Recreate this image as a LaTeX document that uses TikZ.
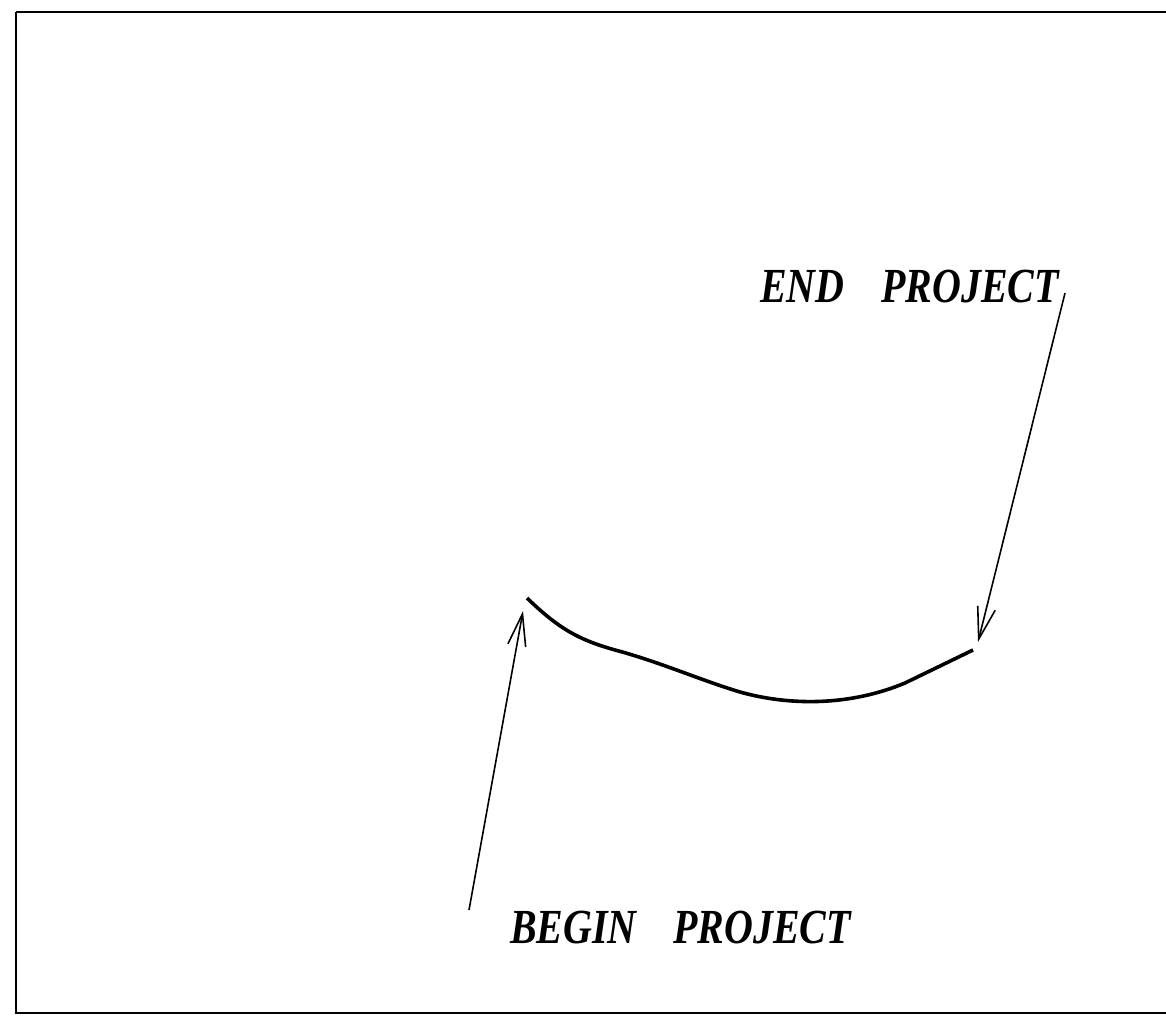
\documentclass[tikz,border=0pt]{standalone}
\usepackage{fontspec}
\setmainfont{Liberation Serif}
\newfontfamily\lblfont[FakeStretch=0.815]{Liberation Serif}
\usetikzlibrary{arrows.meta}
\begin{document}
\begin{tikzpicture}[x=1pt,y=-1pt,
  lbl/.style={font=\lblfont\fontsize{49}{56}\selectfont\bfseries\itshape, inner sep=0pt, anchor=base west},
  pointer/.style={line width=1.6pt, -{Straight Barb[length=32pt,width=18pt,line width=1.6pt]}},
  path line/.style={line width=3.6pt}]
\useasboundingbox (0,0) rectangle (1166,1015);
\draw[line width=1.6pt] (16,12) -- (1170,12) (16,12) -- (16,1013) -- (1170,1013);
\coordinate (s) at (527,598);
\coordinate (e) at (973,650);
\draw[path line] (s) .. controls (560,630) and (580,640) .. (615,650)
  .. controls (660,662) and (700,680) .. (740,692)
  .. controls (790,706) and (850,706) .. (905,683) -- (e);
\node[lbl] (endl) at (760,302) {END\hspace{0.75em}PROJECT};
\node[lbl] (begl) at (510,943) {BEGIN\hspace{0.75em}PROJECT};
\coordinate (et) at (1065,293);
\coordinate (bt) at (469,910);
\coordinate (eh) at (978,642);
\coordinate (bh) at (523,611);
\draw[pointer] (et) -- (eh);
\draw[pointer] (bt) -- (bh);
\end{tikzpicture}
\end{document}
